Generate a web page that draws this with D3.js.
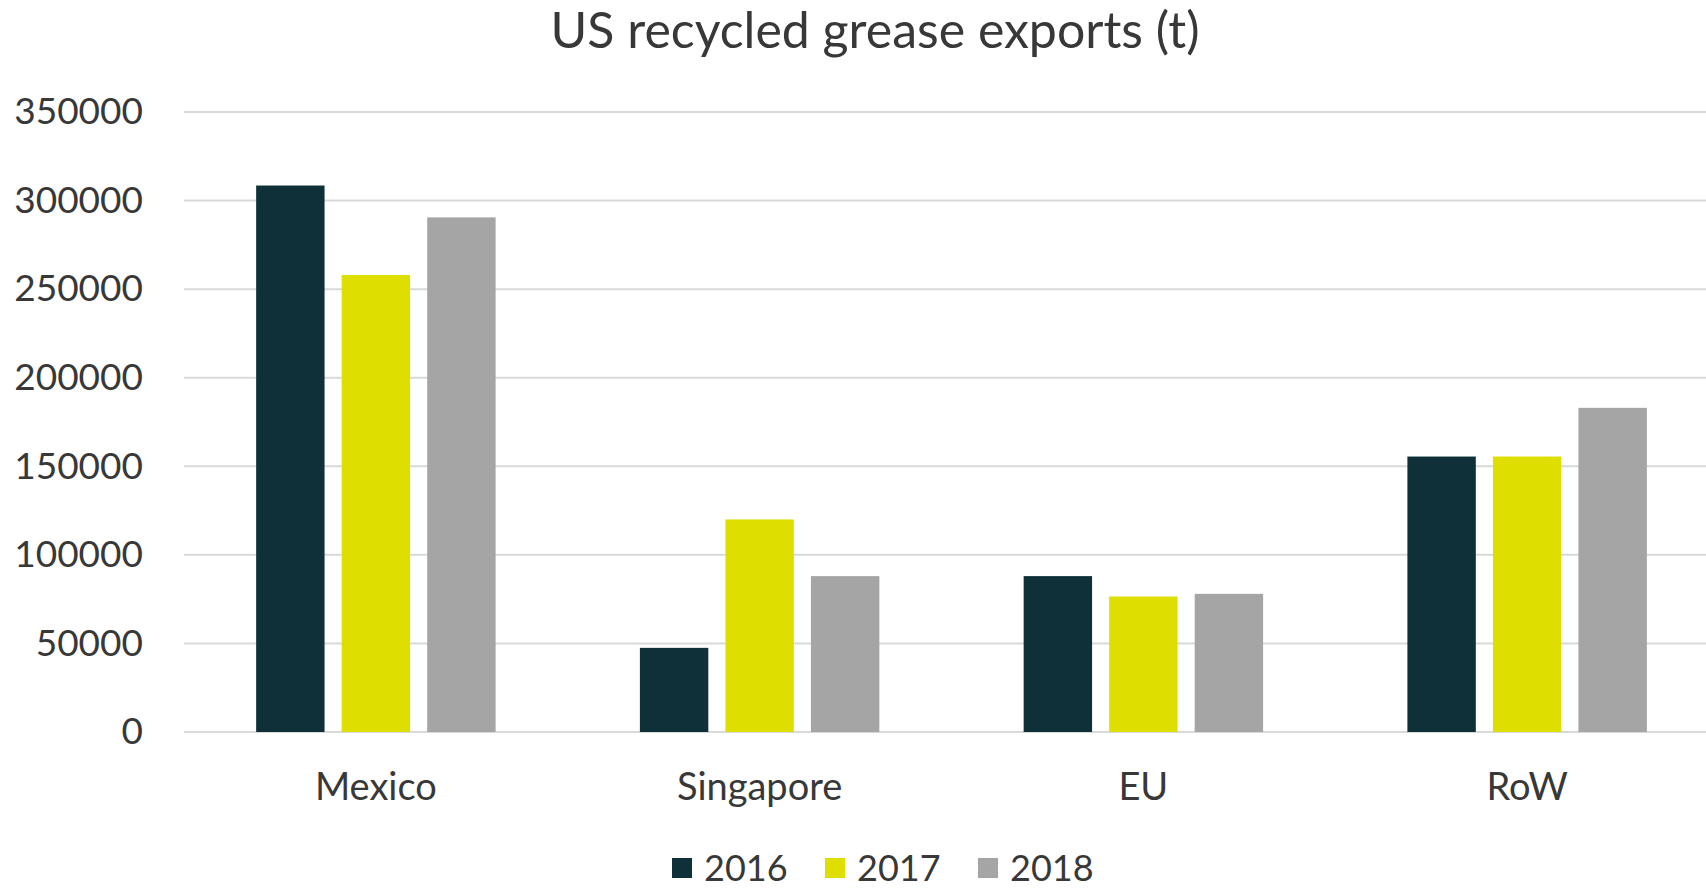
<!DOCTYPE html>
<html lang="en">
<head>
<meta charset="UTF-8">
<title>US recycled grease exports (t)</title>
<script src="https://d3js.org/d3.v7.min.js"></script>
<style>
  body { margin: 0; background: #fff; }
  svg { display: block; font-family: "Lato", "Open Sans", sans-serif; }
</style>
</head>
<body>
<svg width="1706" height="889"></svg>
<script>
    const categories = ["Mexico", "Singapore", "EU", "RoW"];
    const years = ["2016", "2017", "2018"];
    const values2016 = [308500, 47500, 88000, 155500];
    const values2017 = [258000, 120000, 76500, 155500];
    const values2018 = [290500, 88000, 78000, 183000];
    const yTicks = [0, 50000, 100000, 150000, 200000, 250000, 300000, 350000];
    const colors = ["#0f3038", "#dede00", "#a5a5a5"];

    const series = [values2016, values2017, values2018];
    const data = categories.map((c, i) => ({
        category: c,
        values: years.map((y, j) => ({ year: y, value: series[j][i] }))
    }));

    const plotLeft = 184, plotRight = 1719, plotTop = 112, plotBottom = 732;
    const textColor = "#383838";

    const svg = d3.select("svg");

    const x0 = d3.scaleBand()
        .domain(categories)
        .range([plotLeft, plotRight])
        .paddingInner(0.376)
        .paddingOuter(0.188);

    const x1 = d3.scaleBand()
        .domain(years)
        .range([0, x0.bandwidth()])
        .padding(0.2)
        .paddingOuter(0);

    const y = d3.scaleLinear()
        .domain([0, 350000])
        .range([plotBottom, plotTop]);

    // gridlines
    svg.append("g")
        .selectAll("line")
        .data(yTicks)
        .join("line")
        .attr("x1", plotLeft)
        .attr("x2", plotRight)
        .attr("y1", d => y(d))
        .attr("y2", d => y(d))
        .attr("stroke", "#d9d9d9")
        .attr("stroke-width", 2);

    // y axis labels
    const yAxis = svg.append("g")
        .attr("transform", `translate(${plotLeft - 41},0)`)
        .call(d3.axisLeft(y).tickValues(yTicks).tickFormat(d3.format("d")).tickSize(0).tickPadding(0));
    yAxis.select(".domain").remove();
    yAxis.selectAll("text")
        .attr("font-family", "Lato, sans-serif")
        .attr("font-size", 37)
        .attr("fill", textColor);

    // bars
    svg.append("g")
        .selectAll("g")
        .data(data)
        .join("g")
        .attr("transform", d => `translate(${x0(d.category)},0)`)
        .selectAll("rect")
        .data(d => d.values)
        .join("rect")
        .attr("x", d => x1(d.year))
        .attr("y", d => y(d.value))
        .attr("width", x1.bandwidth())
        .attr("height", d => y(0) - y(d.value))
        .attr("fill", (d, i) => colors[i]);

    // x axis labels
    const xAxis = svg.append("g")
        .attr("transform", `translate(0,${plotBottom + 41})`)
        .call(d3.axisBottom(x0).tickSize(0).tickPadding(0));
    xAxis.select(".domain").remove();
    xAxis.selectAll("text")
        .attr("font-family", "Lato, sans-serif")
        .attr("font-size", 38)
        .attr("fill", textColor);

    // title
    svg.append("text")
        .attr("x", 875)
        .attr("y", 48)
        .attr("text-anchor", "middle")
        .attr("font-size", 50)
        .attr("fill", textColor)
        .text("US recycled grease exports (t)");

    // legend
    const legend = svg.append("g")
        .selectAll("g")
        .data(years)
        .join("g")
        .attr("transform", (d, i) => `translate(${672 + i * 153},858)`);
    legend.append("rect")
        .attr("width", 20)
        .attr("height", 20)
        .attr("fill", (d, i) => colors[i]);
    legend.append("text")
        .attr("x", 32)
        .attr("y", 10)
        .attr("dy", "0.35em")
        .attr("font-size", 36)
        .attr("fill", textColor)
        .text(d => d);
</script>
</body>
</html>
